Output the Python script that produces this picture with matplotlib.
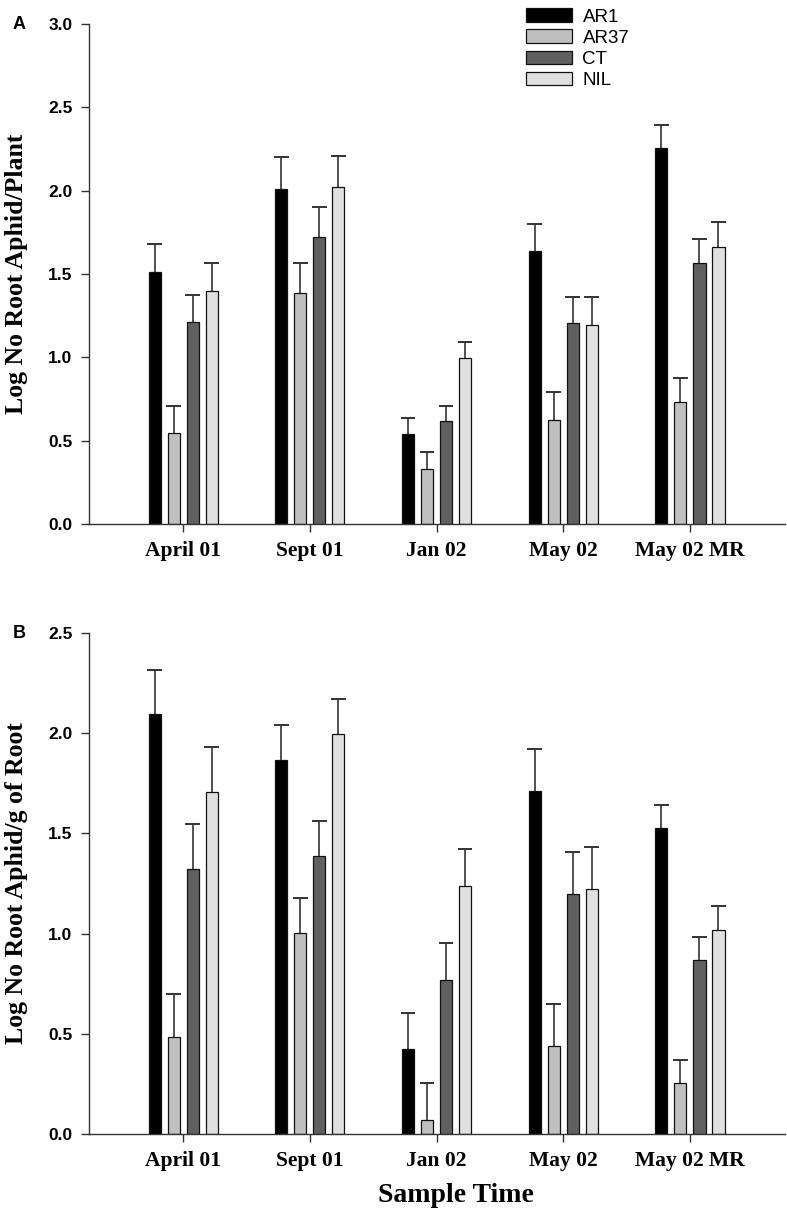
import numpy as np
import matplotlib
matplotlib.use('Agg')
import matplotlib.pyplot as plt
import matplotlib.transforms as mtransforms

# Data
groups = ['April 01', 'Sept 01', 'Jan 02', 'May 02', 'May 02 MR']
lines = ['AR1', 'AR37', 'CT', 'NIL']

# Panel A: log no. root aphid / plant  (means, upper SE)
plant_ar1 = [1.515, 2.01, 0.54, 1.64, 2.255]
plant_ar37 = [0.545, 1.385, 0.33, 0.625, 0.73]
plant_ct = [1.21, 1.72, 0.615, 1.205, 1.565]
plant_nil = [1.40, 2.025, 0.995, 1.195, 1.665]
plant_ar1_se = [0.165, 0.19, 0.095, 0.16, 0.14]
plant_ar37_se = [0.16, 0.18, 0.10, 0.165, 0.145]
plant_ct_se = [0.165, 0.18, 0.095, 0.16, 0.145]
plant_nil_se = [0.165, 0.185, 0.095, 0.165, 0.145]

# Panel B: log no. root aphid / g of root
root_ar1 = [2.097, 1.866, 0.422, 1.711, 1.527]
root_ar37 = [0.482, 1.005, 0.071, 0.439, 0.253]
root_ct = [1.325, 1.387, 0.771, 1.20, 0.867]
root_nil = [1.708, 1.996, 1.24, 1.223, 1.02]
root_ar1_se = [0.22, 0.173, 0.18, 0.208, 0.117]
root_ar37_se = [0.219, 0.171, 0.182, 0.209, 0.117]
root_ct_se = [0.222, 0.175, 0.181, 0.207, 0.117]
root_nil_se = [0.221, 0.177, 0.18, 0.209, 0.118]

colors = ['#000000', '#c0c0c0', '#606060', '#e0e0e0']

serif = ['Liberation Serif', 'DejaVu Serif']
sans = ['Liberation Sans', 'DejaVu Sans']

fig = plt.figure(figsize=(7.87, 12.09), dpi=100)
axA = fig.add_axes([0.1131, 0.5666, 0.8844, 0.4135])
axB = fig.add_axes([0.1131, 0.0620, 0.8844, 0.4144])

x = np.arange(len(groups))
offsets = [-0.225, -0.075, 0.075, 0.225]
width = 0.095
cap = 0.058


def draw_panel(ax, means, errs, ymax, ylabel, letter):
    handles = []
    for i in range(4):
        m = np.array(means[i])
        e = np.array(errs[i])
        xs = x + offsets[i]
        # upper error bar only, drawn behind the bar
        ax.vlines(xs, m, m + e, color='#333333', linewidth=1.2, zorder=1)
        ax.hlines(m + e, xs - cap, xs + cap, color='#333333', linewidth=1.4, zorder=1)
        b = ax.bar(xs, m, width, color=colors[i], edgecolor='#111111',
                   linewidth=0.9, zorder=2, label=lines[i])
        handles.append(b)
    ax.set_xlim(-0.742, 4.75)
    ax.set_ylim(0, ymax)
    ticks = np.arange(0, ymax + 0.01, 0.5)
    ax.set_yticks(ticks)
    ax.set_yticklabels(['%.1f' % v for v in ticks],
                       family=sans, fontweight='bold', fontsize=12.5)
    ax.set_xticks(x)
    ax.set_xticklabels(groups, family=serif, fontweight='bold', fontsize=15.5)
    shift = mtransforms.ScaledTranslation(9 / 100, 0, fig.dpi_scale_trans)
    for lab in ax.get_xticklabels():
        lab.set_transform(lab.get_transform() + shift)
    for s in ['top', 'right']:
        ax.spines[s].set_visible(False)
    for s in ['left', 'bottom']:
        ax.spines[s].set_color('#333333')
        ax.spines[s].set_linewidth(1.0)
    ax.tick_params(axis='both', direction='out', length=6, width=1.0,
                   color='#333333', pad=6)
    ax.set_ylabel(ylabel, family=serif, fontweight='bold', fontsize=18.5)
    ax.yaxis.set_label_coords(-0.087, 0.5)
    ax.text(-0.1, 1.0, letter, transform=ax.transAxes, family=sans,
            fontweight='bold', fontsize=13, ha='center', va='center')
    return handles


hA = draw_panel(axA, [plant_ar1, plant_ar37, plant_ct, plant_nil],
                [plant_ar1_se, plant_ar37_se, plant_ct_se, plant_nil_se],
                3.0, 'Log No Root Aphid/Plant', 'A')
draw_panel(axB, [root_ar1, root_ar37, root_ct, root_nil],
           [root_ar1_se, root_ar37_se, root_ct_se, root_nil_se],
           2.5, 'Log No Root Aphid/g of Root', 'B')

axB.set_xlabel('Sample Time', family=serif, fontweight='bold', fontsize=20)
axB.xaxis.set_label_coords(0.527, -0.098)

leg = fig.legend(hA, lines, loc='upper left', bbox_to_anchor=(0.652, 1.004),
                 frameon=False, prop={'family': sans, 'size': 13.5},
                 handlelength=2.45, handleheight=0.75, labelspacing=0.2,
                 handletextpad=0.55, borderpad=0.2)

fig.savefig('out.png', dpi=100)
